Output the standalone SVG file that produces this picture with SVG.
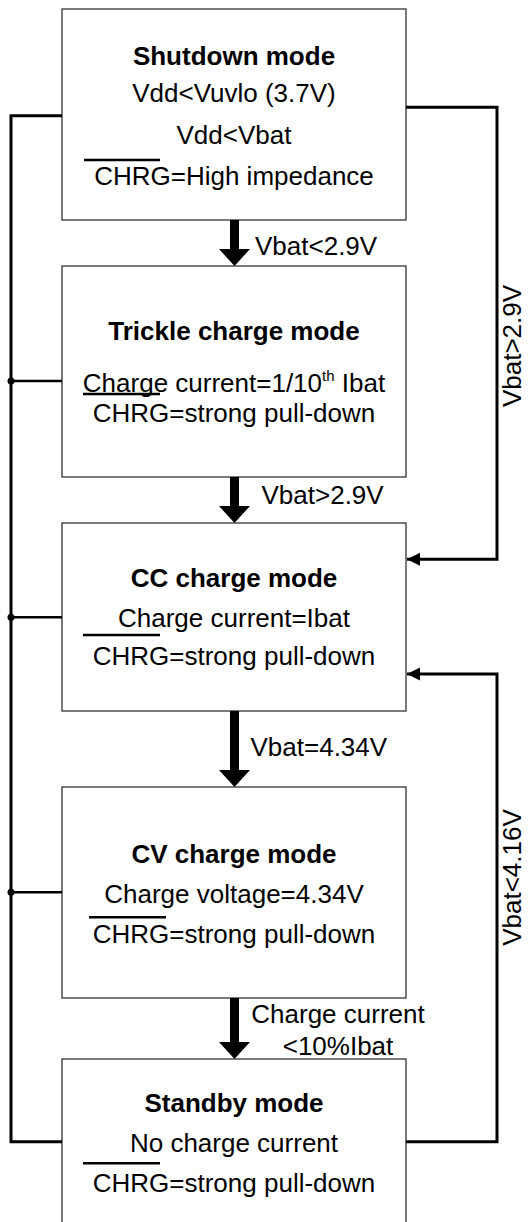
<svg xmlns="http://www.w3.org/2000/svg" width="528" height="1222" viewBox="0 0 528 1222">
<style>
.box{fill:#fff;stroke:#333;stroke-width:1.3}
.t{font-family:"Liberation Sans",Arial,sans-serif;font-size:26px;fill:#000}
.b{font-weight:bold}
.m{text-anchor:middle}
.ol{stroke:#000;stroke-width:2.5}
.w{fill:none;stroke:#000;stroke-width:3}
.thin{fill:none;stroke:#000;stroke-width:2.5}
</style>
<defs>
<marker id="ah" markerUnits="userSpaceOnUse" markerWidth="14" markerHeight="14" refX="13" refY="7" orient="auto">
<path d="M0,0.5 L13,7 L0,13.5 Z" fill="#000"/>
</marker>
</defs>
<g id="shutdown">
<rect class="box" x="62" y="9" width="344" height="211"/>
<text class="t b m" x="234" y="64.5">Shutdown mode</text>
<text class="t m" x="234" y="101.5">Vdd&lt;Vuvlo (3.7V)</text>
<text class="t m" x="234" y="143.5">Vdd&lt;Vbat</text>
<line class="ol" x1="84" y1="160" x2="160" y2="160"/>
<text class="t m" x="234" y="184.5">CHRG=High impedance</text>
</g>
<g id="trickle">
<rect class="box" x="62" y="266" width="344" height="211"/>
<text class="t b m" x="234" y="340">Trickle charge mode</text>
<text class="t m" x="234" y="391.5">Charge current=1/10<tspan font-size="15" dy="-11">th</tspan><tspan dy="11"> Ibat</tspan></text>
<line class="ol" x1="83" y1="394" x2="160" y2="394"/>
<text class="t m" x="234" y="421.5">CHRG=strong pull-down</text>
</g>
<g id="cc">
<rect class="box" x="62" y="523" width="344" height="188"/>
<text class="t b m" x="234" y="586.5">CC charge mode</text>
<text class="t m" x="234" y="626.5">Charge current=Ibat</text>
<line class="ol" x1="83" y1="635" x2="160" y2="635"/>
<text class="t m" x="234" y="665">CHRG=strong pull-down</text>
</g>
<g id="cv">
<rect class="box" x="62" y="787" width="344" height="211"/>
<text class="t b m" x="234" y="862.5">CV charge mode</text>
<text class="t m" x="234" y="902.5">Charge voltage=4.34V</text>
<line class="ol" x1="89" y1="917.3" x2="166" y2="917.3"/>
<text class="t m" x="234" y="942.5">CHRG=strong pull-down</text>
</g>
<g id="standby">
<rect class="box" x="62" y="1059" width="344" height="190"/>
<text class="t b m" x="234" y="1111.5">Standby mode</text>
<text class="t m" x="234" y="1151.5">No charge current</text>
<line class="ol" x1="83" y1="1163.3" x2="160" y2="1163.3"/>
<text class="t m" x="234" y="1191.5">CHRG=strong pull-down</text>
</g>
<g id="connectors">
<path class="w" d="M62,115.7 H11 V1141.7 H62"/>
<path class="thin" d="M11,381 H62 M11,617.3 H62 M11,892.3 H62"/>
<circle cx="11" cy="381" r="3.5"/>
<circle cx="11" cy="617.3" r="3.5"/>
<circle cx="11" cy="892.3" r="3.5"/>
<path class="w" d="M406,107.3 H497 V559.3 H407" marker-end="url(#ah)"/>
<path class="w" d="M406,1141.7 H497 V674 H407" marker-end="url(#ah)"/>
<polygon points="230,220 239,220 239,249 250,249 234.5,266 219,249 230,249"/>
<polygon points="230,477 239,477 239,506 250,506 234.5,523 219,506 230,506"/>
<polygon points="230,711 239,711 239,770 250,770 234.5,787 219,770 230,770"/>
<polygon points="230,998 239,998 239,1042 250,1042 234.5,1059 219,1042 230,1042"/>
<text class="t" x="255" y="255">Vbat&lt;2.9V</text>
<text class="t" x="261.5" y="503.5">Vbat&gt;2.9V</text>
<text class="t" x="250.5" y="756">Vbat=4.34V</text>
<text class="t m" x="338" y="1022.5">Charge current</text>
<text class="t m" x="338" y="1055">&lt;10%Ibat</text>
<text class="t m" transform="translate(521,346) rotate(-90)">Vbat&gt;2.9V</text>
<text class="t m" transform="translate(521,877.5) rotate(-90)">Vbat&lt;4.16V</text>
</g>
</svg>
